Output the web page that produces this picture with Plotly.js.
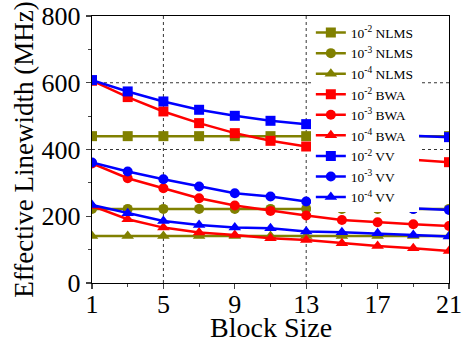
<!DOCTYPE html>
<html><head><meta charset="utf-8">
<script src="https://cdn.plot.ly/plotly-3.0.1.min.js"></script>
<style>html,body{margin:0;padding:0;background:#fff}#c{width:462px;height:341px}</style>
</head><body><div id="c"></div>
<script>
const blockSize = [1,3,5,7,9,11,13,15,17,19,21];
const nlms2 = [440,440,440,440,440,440,440,440,440,440,440];
const nlms3 = [222,222,222,222,222,222,222,222,222,222,222];
const nlms4 = [141,141,141,141,141,141,141,141,141,141,141];
const bwa2 = [606,557,514,479,449,426,409,395,381,369,362];
const bwa3 = [358,314,284,254,232,216,202,189,182,176,171];
const bwa4 = [231,191,166,151,144,134,129,119,111,104,96];
const vv2 = [608,574,544,519,501,486,476,463,451,441,437];
const vv3 = [361,334,311,289,269,259,244,234,229,222,219];
const vv4 = [234,209,186,174,166,164,154,152,149,144,139];
const names = ['10<sup>-2</sup> NLMS','10<sup>-3</sup> NLMS','10<sup>-4</sup> NLMS',
  '10<sup>-2</sup> BWA','10<sup>-3</sup> BWA','10<sup>-4</sup> BWA',
  '10<sup>-2</sup> VV','10<sup>-3</sup> VV','10<sup>-4</sup> VV'];
const xTitle = 'Block Size';
const yTitle = 'Effective Linewidth (MHz)';
const series = [nlms2,nlms3,nlms4,bwa2,bwa3,bwa4,vv2,vv3,vv4];
const colors = ['#808000','#808000','#808000','#ff0000','#ff0000','#ff0000','#0000ff','#0000ff','#0000ff'];
const symbols = ['square','circle','triangle-up','square','circle','triangle-up','square','circle','triangle-up'];
const gridX = [5,13];
const gridY = [400,600];

const traces = series.map((s,i)=>({
  x: blockSize, y: s, name: names[i], type:'scatter', mode:'lines+markers',
  line:{color:colors[i], width:2.5},
  marker:{color:colors[i], symbol:symbols[i], size:i%3===2?11:10}
}));
const shapes = [];
gridX.forEach(v=>shapes.push({type:'line',xref:'x',yref:'paper',x0:v,x1:v,y0:0,y1:1,line:{color:'#000',width:0.8,dash:'dot'},layer:'below'}));
gridY.forEach(v=>shapes.push({type:'line',xref:'paper',yref:'y',x0:0,x1:1,y0:v,y1:v,line:{color:'#000',width:0.8,dash:'dot'},layer:'below'}));
shapes.push({type:'line',xref:'paper',yref:'paper',x0:0.617,x1:0.897,y0:0.985,y1:0.985,line:{color:'#000',width:1.2},layer:'above'});

const fam = 'Liberation Serif, Times New Roman, serif';
const F = (s)=>({family:fam, size:s, color:'#000'});
const layout = {
  width:462, height:341,
  margin:{l:92,r:13,t:16,b:58},
  paper_bgcolor:'#fff', plot_bgcolor:'#fff',
  font: F(22),
  showlegend:true,
  legend:{x:0.613,y:0.995,xanchor:'left',yanchor:'top',bgcolor:'rgba(255,255,255,1)',
    font:F(13.5), tracegroupgap:0, borderwidth:0},
  xaxis:{range:[1,21], tick0:1, dtick:4, ticks:'outside', ticklen:5, tickwidth:1.2,
    showgrid:false, zeroline:false, showline:true, linecolor:'#000', linewidth:1.2, mirror:true,
    minor:{dtick:2, tick0:1, ticks:'outside', ticklen:3, tickwidth:1, showgrid:false},
    tickfont:F(26), automargin:false, ticklabelstandoff:-7},
  yaxis:{range:[0,800], dtick:200, ticks:'outside', ticklen:5, tickwidth:1.2,
    showgrid:false, zeroline:false, showline:true, linecolor:'#000', linewidth:1.2, mirror:true,
    minor:{dtick:100, ticks:'outside', ticklen:3, tickwidth:1, showgrid:false},
    tickfont:F(26), automargin:false,
    title:{text:yTitle, font:F(27), standoff:0}},
  annotations:[{text:xTitle, xref:'paper', yref:'paper', x:0.5, y:-0.168, xanchor:'center', yanchor:'middle',
    showarrow:false, font:F(28)}],
  shapes: shapes
};
Plotly.newPlot('c', traces, layout, {displayModeBar:false, staticPlot:true});
</script></body></html>
